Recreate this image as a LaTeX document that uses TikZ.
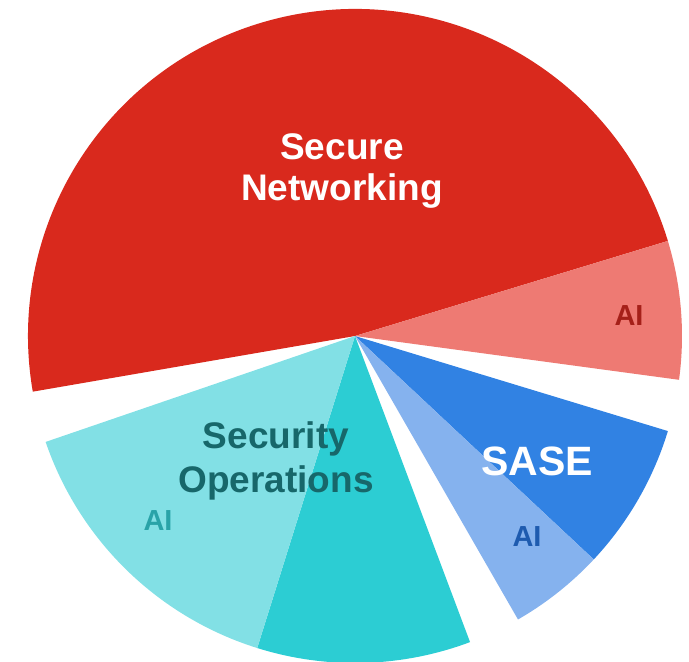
\documentclass[tikz,border=0pt]{standalone}
\usepackage{fontspec}
\setmainfont{Liberation Sans}
\definecolor{netred}{HTML}{D9291D}
\definecolor{netpink}{HTML}{EE7A73}
\definecolor{saseblue}{HTML}{3182E3}
\definecolor{saselight}{HTML}{85B2EE}
\definecolor{opsteal}{HTML}{2CCDD3}
\definecolor{opslight}{HTML}{82E0E5}
\definecolor{txtred}{HTML}{A52019}
\definecolor{txtblue}{HTML}{1E5BAF}
\definecolor{txtops}{HTML}{17676A}
\definecolor{txtopsai}{HTML}{29A3A8}
\begin{document}
\begin{tikzpicture}[x=1pt,y=1pt,
  lbl/.style={inner sep=0pt, align=center, font=\bfseries\fontsize{37}{41}\selectfont},
  ailbl/.style={inner sep=0pt, font=\bfseries\fontsize{29}{32}\selectfont}]
\useasboundingbox (0,0) rectangle (689,-662);
\def\R{327}
\coordinate (c) at (355,-336);
% pie slices: start angle, end angle, colour
\foreach \a/\b/\col in {16.9/189.8/netred, -7.7/16.9/netpink,
    -43.1/-16.9/saseblue, -60.1/-43.1/saselight,
    -107.4/-69.4/opsteal, -161.1/-107.4/opslight}{
  \fill[\col] (c) -- ++(\a:\R) arc[start angle=\a, end angle=\b, radius=\R] -- cycle;
}
% labels
\node[lbl, text=white] (net) at (342,-171) {Secure\\Networking};
\node[ailbl, text=txtred] (netai) at (629,-316) {AI};
\node[lbl, text=white, font=\bfseries\fontsize{41}{44}\selectfont] (sase) at (537,-461) {SASE};
\node[ailbl, text=txtblue] (saseai) at (527,-537) {AI};
\node[lbl, text=txtops, font=\bfseries\fontsize{37}{44}\selectfont] (ops) at (276,-461) {Security\\Operations};
\node[ailbl, text=txtopsai] (opsai) at (158,-521) {AI};
\end{tikzpicture}
\end{document}
